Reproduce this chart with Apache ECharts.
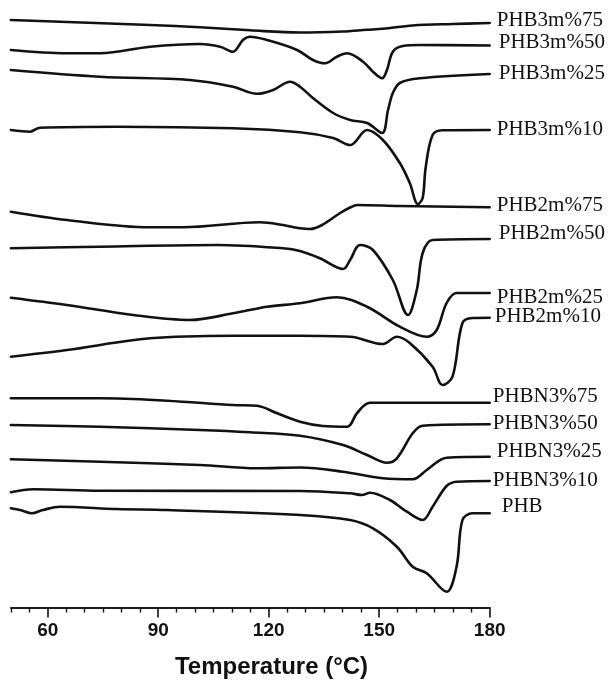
<!DOCTYPE html>
<html>
<head>
<meta charset="utf-8">
<script src="https://cdn.jsdelivr.net/npm/echarts@6/dist/echarts.min.js"></script>
<style>html,body{margin:0;padding:0;background:#fff;}#c{width:608px;height:683px;}</style>
</head>
<body>
<div id="c"></div>
<script>
// Temperature (°C) vs heat flow (arbitrary units, stacked offset, larger = lower on chart)
const PHB3m75 = [[50,20],[87.8,25],[101.3,27.3],[114.9,30.3],[128.5,32.5],[140,31.5],[146.7,29.8],[151,28.8],[159.1,25.5],[170,24],[180,23]];
const PHB3m50 = [[50,50],[65.2,53.3],[74.2,53.3],[87.8,46.7],[101.3,44],[106.8,46.7],[110.3,51.7],[113,40],[114.9,36.7],[119.5,40],[127.7,50],[132,60],[135.3,63.3],[138.5,56.7],[141.3,53.3],[145.6,61.7],[148.3,71.7],[150.8,78.3],[152.1,70],[153.7,51.7],[156.4,46],[161,45],[180,45.5]];
const PHB3m25 = [[50,70],[74.2,76.7],[98.6,80],[110.3,86.7],[116.8,93.8],[121.2,90],[125.8,81.7],[128.5,86.7],[132,98],[137.5,113],[142.1,120],[146.7,123],[150.8,133],[152.4,110],[153.7,93],[155.6,83],[161,78.3],[180,74]];
const PHB3m10 = [[50,130],[55.2,131.7],[57.9,127.7],[78.8,126.7],[110.3,128.3],[128.5,132.3],[137.5,138],[142.1,145],[146.7,130],[151,140],[155.6,163],[158.3,183],[160.5,204],[161.8,198],[162.6,168],[164.5,135],[167.2,130.3],[180,130]];
const PHB2m75 = [[50,211.7],[65.2,220],[87.8,227.3],[96.7,227.3],[117.6,222.3],[123.9,225],[128.5,228.3],[131.2,229],[134.5,225],[139.4,213],[142.1,207.5],[144,205],[155.6,206],[180,207.3]];
const PHB2m50 = [[50,248.3],[74.2,246.7],[106,245],[123.9,248.3],[128.5,251],[133.9,258.3],[140.2,269],[142.1,260],[144.8,245],[148.3,250],[153.7,280],[157.8,315],[160.2,290],[161.8,253],[164.5,240],[180,239]];
const PHB2m25 = [[50,297.7],[65.2,305],[83.2,315],[98.6,320],[110.3,313.3],[119.5,306.7],[128.5,303.3],[138.5,297.3],[146.7,306.7],[155.6,326.7],[162.9,336.7],[165.6,330],[168.3,303],[171,293],[180,293]];
const PHB2m10 = [[50,356.7],[65.2,350],[87.8,338.3],[110.3,335.7],[128.5,335.7],[142.1,336.7],[151,344],[154.8,336.7],[158.3,343],[164.5,366.7],[167.2,385],[169.9,376.7],[172.6,323],[175.3,318],[180,317.7]];
const PHBN3_75 = [[50,398.3],[74.2,398.3],[92.4,400.7],[110.3,405],[116.8,405.7],[122.3,413.3],[128.5,421.7],[134.7,426],[141.3,426.7],[144,413],[147.5,402.7],[180,402.7]];
const PHBN3_50 = [[50,425],[74.2,426.7],[101.3,430],[114.9,432.3],[128.5,435.7],[140.2,445],[146.7,455],[152.1,462.7],[154.8,458.3],[159.1,433.3],[161.8,425.7],[180,424.3]];
const PHBN3_25 = [[50,459.3],[74.2,461.7],[101.3,465],[116.8,468.3],[128.5,467.5],[140.2,471.7],[151,478.3],[159.1,479.3],[162.9,470],[168.3,457.7],[180,456.7]];
const PHBN3_10 = [[50,492.3],[56,489.3],[74.2,490.7],[128.5,491],[142.1,493.3],[145.3,495],[147.5,492.7],[152.9,500],[157.5,511.7],[161.8,520],[164.5,506.7],[168.3,486],[171,481.7],[180,481]];
const PHB = [[50,508.3],[52.5,510],[55.7,513.3],[58.7,510],[63.3,506.7],[78.8,509],[92.4,510],[128.5,515],[142.1,520],[148.3,528.3],[154.8,546.7],[159.1,566.7],[162.9,573.3],[168.3,591.7],[171,566.7],[172.6,520],[175.3,513.3],[180,513.3]];

const seriesNames = ['PHB3m%75','PHB3m%50','PHB3m%25','PHB3m%10','PHB2m%75','PHB2m%50','PHB2m%25','PHB2m%10','PHBN3%75','PHBN3%50','PHBN3%25','PHBN3%10','PHB'];
const seriesData = [PHB3m75,PHB3m50,PHB3m25,PHB3m10,PHB2m75,PHB2m50,PHB2m25,PHB2m10,PHBN3_75,PHBN3_50,PHBN3_25,PHBN3_10,PHB];

const majorTicks = [60,90,120,150,180];
const minorTicks = [50,55,65,70,75,80,85,95,100,105,110,115,125,130,135,140,145,155,160,165,170,175];
const xMin = 50, xMax = 180;

// label placement (style only)
const labelOffsets = [[7,-3],[9,-3],[9,-1],[7,-1],[7,-2],[9,-6],[7,4],[5,-1],[3,-6],[3,-1],[7,-5],[3,-1],[12,-7]];

const chart = echarts.init(document.getElementById('c'), null, {renderer:'canvas'});
const series = seriesNames.map((n,i)=>({
  name:n, type:'line', data:seriesData[i], xAxisIndex:0, yAxisIndex:0,
  smooth:0.35, showSymbol:false, symbol:'none', clip:false,
  lineStyle:{color:'#111', width:2.6, join:'round', cap:'round'},
  endLabel:{show:true, formatter:'{a}', distance:0, offset:labelOffsets[i],
    fontFamily:'Liberation Serif', fontSize:21, color:'#111', align:'left', verticalAlign:'middle'},
  emphasis:{disabled:true}, animation:false
}));

chart.setOption({
  animation:false,
  backgroundColor:'#fff',
  grid:{left:10.9, right:118.3, top:0, bottom:75.5, containLabel:false},
  xAxis:[
    {type:'value', min:xMin, max:xMax, position:'bottom',
     axisLine:{show:true, onZero:false, lineStyle:{color:'#111', width:1.6}},
     axisTick:{show:true, customValues:majorTicks, length:10, lineStyle:{color:'#111', width:1.6}},
     axisLabel:{show:true, customValues:majorTicks, margin:14, fontFamily:'Liberation Sans', fontWeight:'bold', fontSize:19, color:'#111'},
     splitLine:{show:false}},
    {type:'value', min:xMin, max:xMax, position:'bottom', offset:0,
     axisLine:{show:true, onZero:false, lineStyle:{color:'#111', width:1.6}},
     axisTick:{show:true, customValues:minorTicks, length:5, lineStyle:{color:'#111', width:1.4}},
     axisLabel:{show:false}, splitLine:{show:false}}
  ],
  yAxis:{type:'value', inverse:true, min:0, max:607.5, show:false},
  graphic:[{type:'text', x:271.5, y:667,
    style:{text:'Temperature (°C)', font:'bold 24px "Liberation Sans"', fill:'#111', textAlign:'center', textVerticalAlign:'middle'}}],
  series:series
});
</script>
</body>
</html>
